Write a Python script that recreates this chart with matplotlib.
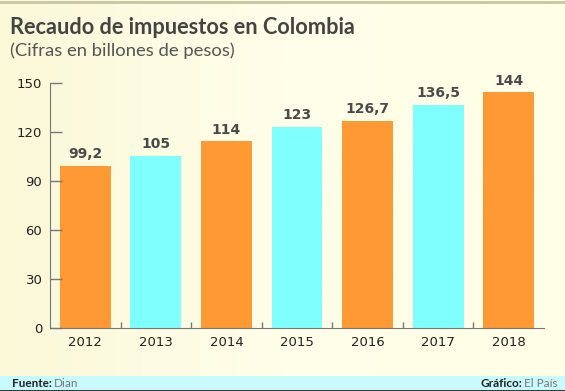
import matplotlib.pyplot as plt
import numpy as np
from matplotlib.colors import LinearSegmentedColormap

years = ["2012", "2013", "2014", "2015", "2016", "2017", "2018"]
recaudo = [99.2, 105, 114, 123, 126.7, 136.5, 144]
value_labels = ["99,2", "105", "114", "123", "126,7", "136,5", "144"]
bar_colors = ["#ff9933", "#80ffff", "#ff9933", "#80ffff", "#ff9933", "#80ffff", "#ff9933"]
y_ticks = [0, 30, 60, 90, 120, 150]

W, H = 565, 391
fig = plt.figure(figsize=(W / 100, H / 100), dpi=100)

# fondo con degradado suave
bg = fig.add_axes([0, 0, 1, 1], zorder=-10)
grad = np.linspace(0, 1, 256).reshape(1, -1)
cmap = LinearSegmentedColormap.from_list("bg", ["#fbf8d8", "#fffee9", "#fffee6"])
bg.imshow(grad, aspect="auto", cmap=cmap, extent=[0, W, 0, H])
bg.set_xlim(0, W)
bg.set_ylim(H, 0)
bg.axis("off")
# borde superior y franja del pie
bg.add_patch(plt.Rectangle((0, 1), W, 2.5, color="#c9c9a6", lw=0))
bg.add_patch(plt.Rectangle((0, 376), W, 14, color="#c8f9fd", lw=0))
bg.add_patch(plt.Rectangle((0, 389.5), W, 1.5, color="#3a3a3a", lw=0))

title_font = ["Lato", "DejaVu Sans"]
fig.text(10 / W, 1 - 34 / H, "Recaudo de impuestos en Colombia", fontsize=15.7,
         fontweight="bold", color="#444444", family=title_font)
fig.text(10 / W, 1 - 56 / H, "(Cifras en billones de pesos)", fontsize=13.3,
         color="#555555", family=title_font)

foot_y = 1 - 387 / H
fig.text(12 / W, foot_y, "Fuente:", fontsize=8.5, fontweight="bold",
         color="#222222", family=title_font)
fig.text(54 / W, foot_y, "Dian", fontsize=8.5, color="#777777", family=title_font)
fig.text(557 / W, foot_y, "El País", fontsize=8.5, color="#777777",
         family=title_font, ha="right")
fig.text(522 / W, foot_y, "Gráfico:", fontsize=8.5, fontweight="bold",
         color="#222222", family=title_font, ha="right")

ax = fig.add_axes([50 / W, 1 - 327.7 / H, 494 / W, 245 / H])
ax.patch.set_alpha(0)
positions = np.arange(len(years))
bars = ax.bar(positions, recaudo, width=0.72, color=bar_colors)
for bar, label in zip(bars, value_labels):
    ax.text(bar.get_x() + bar.get_width() / 2, bar.get_height() + 3, label,
            ha="center", va="bottom", fontsize=10, fontweight="bold", color="#4a4a4a")

ax.set_xlim(-0.5, len(years) - 0.5)
ax.set_ylim(0, 150)
ax.set_yticks(y_ticks)
ax.set_xticks(positions, labels=years)
ax.set_xticks(positions[:-1] + 0.5, minor=True)
ax.tick_params(axis="y", direction="in", length=8.5, width=1, color="#777777",
               labelsize=9.5, labelcolor="#222222", pad=5.5)
ax.tick_params(axis="x", which="major", length=0, labelsize=9.5,
               labelcolor="#222222", pad=6)
ax.tick_params(axis="x", which="minor", direction="in", length=4, width=1,
               color="#777777")
for side in ("top", "right"):
    ax.spines[side].set_visible(False)
for side in ("left", "bottom"):
    ax.spines[side].set_color("#777777")

fig.savefig("out.png", dpi=100)
